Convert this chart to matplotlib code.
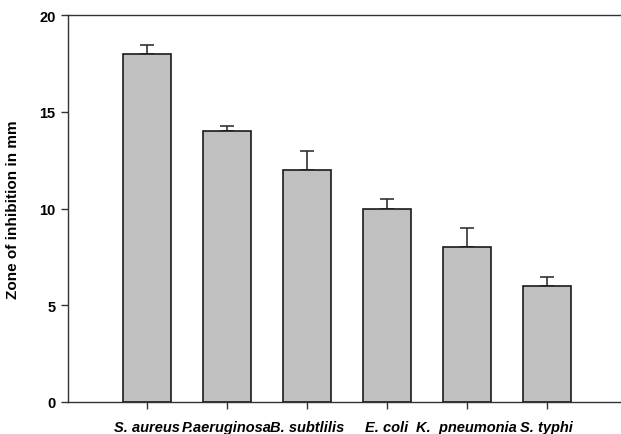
import numpy as np
import matplotlib.pyplot as plt

# zone of inhibition per organism
organisms = ['S. aureus', 'P.aeruginosa', 'B. subtlilis', 'E. coli', 'K.  pneumonia', 'S. typhi']
zone_mm = [18.0, 14.0, 12.0, 10.0, 8.0, 6.0]
err_mm = [0.45, 0.28, 1.0, 0.5, 0.97, 0.45]

plt.rcParams['font.family'] = ['Liberation Sans', 'DejaVu Sans']

fig = plt.figure(figsize=(6.21, 4.35), dpi=100)
ax = fig.add_axes([0.1095, 0.0736, 0.8905, 0.8894])

x = np.arange(len(organisms))
ax.bar(x, zone_mm, width=0.6, color='#c0c0c0', edgecolor='#1a1a1a', linewidth=1.2, zorder=2)
ax.errorbar(x, zone_mm, yerr=[np.zeros(len(err_mm)), err_mm], fmt='none',
            ecolor='#333333', elinewidth=1.2, capsize=5, capthick=1.2, zorder=1)

ax.set_xlim(-0.99, 5.93)
ax.set_ylim(0, 20)
ax.set_yticks([0, 5, 10, 15, 20])
ax.set_xticks(x)
ax.set_xticklabels(organisms, fontsize=10.5, fontweight='bold', fontstyle='italic')
for lab in ax.get_yticklabels():
    lab.set_fontsize(10.5)
    lab.set_fontweight('bold')
ax.tick_params(axis='both', direction='out', length=5, width=1, color='#333333', pad=4)
ax.tick_params(axis='x', pad=8)
ax.set_ylabel('Zone of inhibition in mm', fontsize=11, fontweight='bold', labelpad=14)

ax.spines['right'].set_visible(False)
for s in ['left', 'top', 'bottom']:
    ax.spines[s].set_color('#333333')
    ax.spines[s].set_linewidth(1.0)

fig.savefig('out.png', dpi=100)
